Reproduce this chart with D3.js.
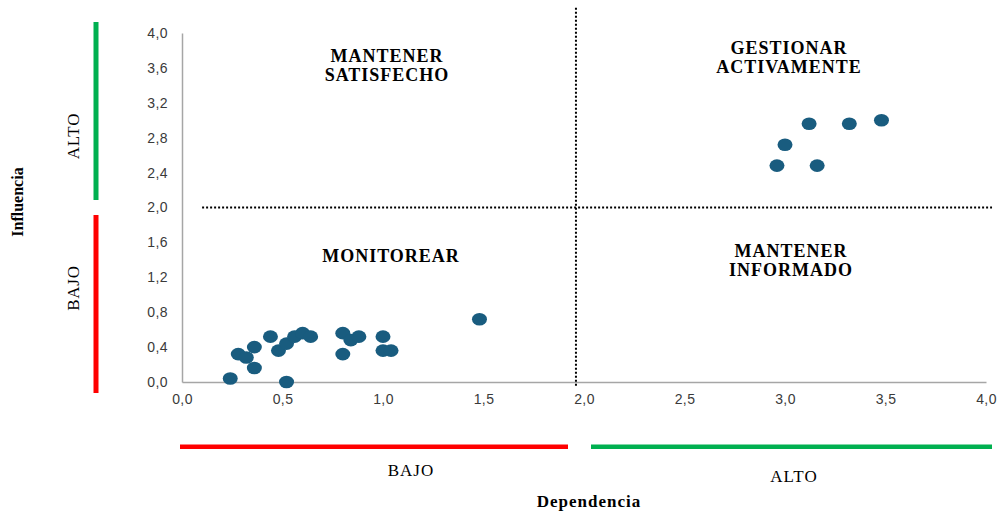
<!DOCTYPE html>
<html>
<head>
<meta charset="utf-8">
<script src="https://cdn.jsdelivr.net/npm/d3@7"></script>
<style>
  body { margin: 0; background: #fff; }
  svg { display: block; }
</style>
</head>
<body>
<svg id="chart" width="1000" height="512"></svg>
<script>
// Dependencia (x) / Influencia (y) for each stakeholder
const dependencia = [0.24, 0.28, 0.32, 0.36, 0.36, 0.44, 0.48, 0.52, 0.52, 0.56,
                     0.60, 0.64, 0.80, 0.80, 0.84, 0.88, 1.00, 1.00, 1.04, 1.48,
                     2.96, 3.00, 3.12, 3.16, 3.32, 3.48]
const influencia  = [0.04, 0.32, 0.28, 0.40, 0.16, 0.52, 0.36, 0.00, 0.44, 0.52,
                     0.56, 0.52, 0.56, 0.32, 0.48, 0.52, 0.52, 0.36, 0.36, 0.72,
                     2.48, 2.72, 2.96, 2.48, 2.96, 3.00]

const xTicks = [0, 0.5, 1, 1.5, 2, 2.5, 3, 3.5, 4]
const yTicks = [0, 0.4, 0.8, 1.2, 1.6, 2.0, 2.4, 2.8, 3.2, 3.6, 4.0]

const quadrants = [
    { lines: ["MANTENER", "SATISFECHO"], x: 1.02, y: 3.67 },
    { lines: ["GESTIONAR", "ACTIVAMENTE"], x: 3.02, y: 3.76 },
    { lines: ["MONITOREAR"], x: 1.04, y: 1.375 },
    { lines: ["MANTENER", "INFORMADO"], x: 3.03, y: 1.43 }
]

const margins = { top: 33, left: 182, right: 14, bottom: 130 }
const svg = d3.select("#chart")
const width = 1000 - margins.left - margins.right
const height = 512 - margins.top - margins.bottom

const xRange = d3.scaleLinear().domain([0, 4]).range([0, width])
const yRange = d3.scaleLinear().domain([0, 4]).range([height, 0])
const comma = d => d3.format(".1f")(d).replace(".", ",")

const g = svg.append("g")
    .attr("transform", "translate(" + margins.left + "," + margins.top + ")")

// axes
const xAxis = d3.axisBottom(xRange).tickValues(xTicks).tickFormat(comma).tickSize(0).tickPadding(12)
const yAxis = d3.axisLeft(yRange).tickValues(yTicks).tickFormat(comma).tickSize(0).tickPadding(14)

g.append("g")
    .attr("transform", "translate(0," + height + ")")
    .call(xAxis)
    .call(a => a.select(".domain").attr("stroke", "#a6a6a6").attr("stroke-width", 1.5))
g.append("g")
    .call(yAxis)
    .call(a => a.select(".domain").attr("stroke", "#a6a6a6").attr("stroke-width", 1.5))
g.selectAll(".tick text")
    .attr("font-family", "Liberation Sans, Arial, sans-serif")
    .attr("font-size", "14px")
    .attr("letter-spacing", "0.4px")
    .attr("fill", "#3a3a3a")

// dotted quadrant dividers
g.append("line")
    .attr("x1", xRange(1.96)).attr("x2", xRange(1.96))
    .attr("y1", yRange(4.29)).attr("y2", yRange(-0.06))
    .attr("stroke", "#000").attr("stroke-width", 2).attr("stroke-dasharray", "2,2")
g.append("line")
    .attr("x1", xRange(0.1)).attr("x2", xRange(4.03))
    .attr("y1", yRange(2.0)).attr("y2", yRange(2.0))
    .attr("stroke", "#000").attr("stroke-width", 2).attr("stroke-dasharray", "2,2")

// quadrant labels
quadrants.forEach(q => {
    const t = g.append("text")
        .attr("text-anchor", "middle")
        .attr("font-family", "Liberation Serif, Times New Roman, serif")
        .attr("font-weight", "bold")
        .attr("font-size", "18px")
        .attr("letter-spacing", "1px")
        .attr("fill", "#000")
    q.lines.forEach((l, i) => {
        t.append("tspan")
            .attr("x", xRange(q.x))
            .attr("y", yRange(q.y) + i * 19)
            .text(l)
    })
})

// points
g.selectAll("ellipse.pt")
    .data(dependencia)
    .enter()
    .append("ellipse")
    .attr("class", "pt")
    .attr("cx", d => xRange(d))
    .attr("cy", (d, i) => yRange(influencia[i]))
    .attr("rx", 7.5)
    .attr("ry", 6.3)
    .attr("fill", "#195c7f")

// range bars (BAJO / ALTO)
svg.append("rect").attr("x", 93.5).attr("y", 22).attr("width", 5).attr("height", 178).attr("fill", "#00b050")
svg.append("rect").attr("x", 93.5).attr("y", 215).attr("width", 5).attr("height", 178).attr("fill", "#ff0000")
svg.append("rect").attr("x", 180).attr("y", 444.5).attr("width", 388).attr("height", 4.5).attr("fill", "#ff0000")
svg.append("rect").attr("x", 591).attr("y", 444.5).attr("width", 401).attr("height", 4.5).attr("fill", "#00b050")

const serif = "Liberation Serif, Times New Roman, serif"

svg.append("text")
    .attr("transform", "translate(79,136) rotate(-90)")
    .attr("text-anchor", "middle")
    .attr("font-family", serif).attr("font-size", "17px").attr("letter-spacing", "0.8px")
    .text("ALTO")
svg.append("text")
    .attr("transform", "translate(79,288) rotate(-90)")
    .attr("text-anchor", "middle")
    .attr("font-family", serif).attr("font-size", "17px").attr("letter-spacing", "0.8px")
    .text("BAJO")
svg.append("text")
    .attr("transform", "translate(23,202) rotate(-90)")
    .attr("text-anchor", "middle")
    .attr("font-family", serif).attr("font-size", "16px").attr("font-weight", "bold")
    .text("Influencia")

svg.append("text")
    .attr("x", 411).attr("y", 476)
    .attr("text-anchor", "middle")
    .attr("font-family", serif).attr("font-size", "17px").attr("letter-spacing", "1px")
    .text("BAJO")
svg.append("text")
    .attr("x", 794).attr("y", 482)
    .attr("text-anchor", "middle")
    .attr("font-family", serif).attr("font-size", "17px").attr("letter-spacing", "1px")
    .text("ALTO")
svg.append("text")
    .attr("x", 589).attr("y", 507)
    .attr("text-anchor", "middle")
    .attr("font-family", serif).attr("font-size", "17px").attr("font-weight", "bold")
    .attr("letter-spacing", "1px")
    .text("Dependencia")
</script>
</body>
</html>
